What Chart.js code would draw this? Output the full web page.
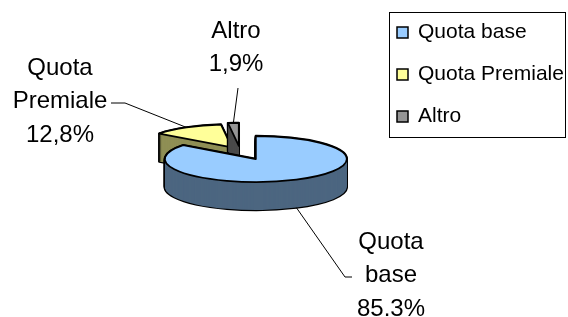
<!DOCTYPE html>
<html>
<head>
<meta charset="utf-8">
<script src="https://cdn.jsdelivr.net/npm/chart.js@4.4.1/dist/chart.umd.min.js"></script>
<style>
    html, body { margin: 0; padding: 0; background: #fff; }
    canvas { display: block; }
</style>
</head>
<body>
<canvas id="pie" width="568" height="317"></canvas>
<script>
// data
const labels = ['Quota base', 'Quota Premiale', 'Altro'];
const values = [85.3, 12.8, 1.9];
const valueText = ['85.3%', '12,8%', '1,9%'];
const topColors = ['#99CCFF', '#FFFF99', '#969696'];
const sideColors = ['#4C6680', '#8F8F55', '#4B4B4B'];

// look of the 3d pie
const CX = 240, CY = 151, RX = 91, RY = 23, DEPTH = 28;
const EXPLODE = [39, 18, 22];   // pull-out of each slice, in unsquashed px
const FONT = '"Liberation Sans", Arial, sans-serif';

// where the slice labels sit (centre of text block) and the elbow of their leader line
const labelPos = [
    { x: 391, y: 242, elbow: [[345, 277], [352, 277]] },
    { x: 60, y: 68, elbow: [[125, 103], [111, 103]] },
    { x: 236, y: 31, elbow: [[238, 88]] }
];

// explode shift of a slice on screen
const sliceShift = function (arc, i, sx, sy) {
    const mid = (arc.startAngle + arc.endAngle) / 2;
    return [Math.cos(mid) * EXPLODE[i] * sx, Math.sin(mid) * EXPLODE[i] * sy];
};

// screen point on the rim at a slice mid angle
const rimPoint = function (arc, i, sx, sy, depth) {
    const mid = (arc.startAngle + arc.endAngle) / 2;
    const sh = sliceShift(arc, i, sx, sy);
    return [CX + sh[0] + Math.cos(mid) * arc.outerRadius * sx,
            CY + sh[1] + Math.sin(mid) * arc.outerRadius * sy + depth];
};

const pie3d = {
    id: 'pie3d',
    beforeDatasetsDraw(chart) {
        const ctx = chart.ctx;
        const arcs = chart.getDatasetMeta(0).data;
        const r = arcs[0].outerRadius;
        const sx = RX / r, sy = RY / r;
        const ax = arcs[0].x, ay = arcs[0].y;

        // keep strokes even while the fill is squashed
        const origStroke = ctx.stroke;
        ctx.stroke = function () {
            this.save();
            this.setTransform(1, 0, 0, 1, 0, 0);
            origStroke.apply(this, arguments);
            this.restore();
        };

        [1, 2, 0].forEach(function (i) {
            const arc = arcs[i];
            const saved = arc.options;
            const sh = sliceShift(arc, i, sx, sy);
            const layer = function (dy, fill, bw) {
                ctx.save();
                ctx.setTransform(sx, 0, 0, sy, CX + sh[0] - ax * sx, CY + sh[1] + dy - ay * sy);
                arc.options = Object.assign({}, saved, { backgroundColor: fill, borderWidth: bw, borderColor: '#000', borderJoinStyle: 'round' });
                arc.draw(ctx);
                ctx.restore();
            };
            for (let d = DEPTH; d >= 0; d--) layer(d, '#000', 2.4);
            for (let d = DEPTH; d >= 1; d--) layer(d, sideColors[i], 0);
            layer(0, topColors[i], 1.8);
            arc.options = saved;
        });

        ctx.stroke = origStroke;

        // slice labels + leader lines
        ctx.save();
        ctx.font = '24px ' + FONT;
        ctx.fillStyle = '#000';
        ctx.textAlign = 'center';
        ctx.textBaseline = 'middle';
        arcs.forEach(function (arc, i) {
            const p = labelPos[i];
            const lines = labels[i].split(' ').concat([valueText[i]]);
            lines.forEach(function (t, k) {
                ctx.fillText(t, p.x, p.y + k * 33.5);
            });
            const start = rimPoint(arc, i, sx, sy, i == 0 ? DEPTH : 0);
            ctx.beginPath();
            ctx.moveTo(start[0], start[1]);
            p.elbow.forEach(function (q) { ctx.lineTo(q[0], q[1]); });
            ctx.lineWidth = 1;
            ctx.strokeStyle = '#000';
            ctx.stroke();
        });
        ctx.restore();
        return false;
    },
    afterDraw(chart) {
        // legend, Excel style with a box
        const ctx = chart.ctx;
        ctx.save();
        ctx.strokeStyle = '#000';
        ctx.lineWidth = 1;
        ctx.strokeRect(389.5, 12.5, 176, 125);
        ctx.font = '21px ' + FONT;
        ctx.textBaseline = 'middle';
        ctx.textAlign = 'left';
        chart.data.labels.forEach(function (lab, i) {
            const y = 32 + i * 42;
            ctx.fillStyle = topColors[i];
            ctx.fillRect(397, y - 5, 11, 11);
            ctx.lineWidth = 1.5;
            ctx.strokeRect(397, y - 5, 11, 11);
            ctx.fillStyle = '#000';
            ctx.fillText(lab, 418, y);
        });
        ctx.restore();
    }
};

new Chart(document.getElementById('pie'), {
    type: 'pie',
    data: {
        labels: labels,
        datasets: [{
            data: values,
            backgroundColor: topColors,
            borderColor: '#000',
            borderWidth: 1.8,
            radius: 100
        }]
    },
    options: {
        responsive: false,
        animation: false,
        events: [],
        plugins: {
            legend: { display: false },
            tooltip: { enabled: false }
        }
    },
    plugins: [pie3d]
});
</script>
</body>
</html>
